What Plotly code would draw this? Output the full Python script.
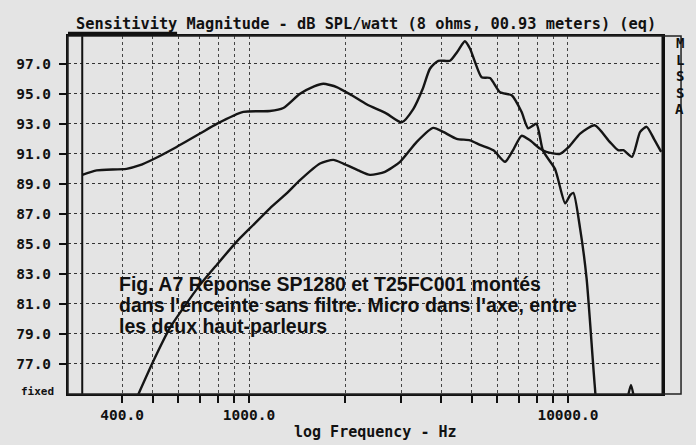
import numpy as np
import plotly.graph_objects as go

# ---- data ----
upper_freq = [300, 333, 413, 455, 501, 593, 702, 792, 960, 1163, 1281, 1445, 1600, 1710, 1883,
              2100, 2336, 2700, 3010, 3277, 3500, 3692, 3923, 4266, 4500, 4750, 4932, 5115, 5362,
              5696, 6125, 6662, 7151, 7506, 7962, 8352, 9103, 9800, 10160, 10400, 10920, 11440,
              12130, 12600, 14000, 15300, 15760, 16200, 17000]
upper_db = [89.6, 89.9, 90.0, 90.24, 90.64, 91.46, 92.35, 93.0, 93.8, 93.85, 94.05, 95.0, 95.5,
            95.67, 95.45, 94.9, 94.3, 93.68, 93.1, 94.0, 95.3, 96.67, 97.2, 97.2, 97.8, 98.5, 98.0,
            97.1, 96.1, 96.05, 95.1, 94.9, 93.8, 92.7, 93.0, 91.2, 90.0, 87.7, 88.25, 88.4, 86.0,
            82.7, 75.6, 72.0, 70.0, 74.5, 75.6, 74.5, 72.0]

lower_freq = [447, 501, 565, 622, 702, 792, 915, 1031, 1163, 1312, 1445, 1670, 1838, 1975, 2200,
              2395, 2668, 2976, 3357, 3781, 4064, 4478, 4932, 5300, 5840, 6350, 6750, 7151, 7600,
              8165, 8554, 9437, 10100, 10920, 12130, 13520, 14360, 14930, 15880, 16840, 17650,
              18600, 19600]
lower_db = [74.85, 77.18, 79.4, 80.72, 82.27, 83.6, 85.15, 86.26, 87.37, 88.36, 89.25, 90.36,
            90.6, 90.35, 89.9, 89.6, 89.8, 90.47, 91.8, 92.73, 92.46, 92.0, 91.9, 91.6, 91.24,
            90.47, 91.3, 92.2, 91.9, 91.35, 91.13, 91.0, 91.5, 92.35, 92.9, 91.8, 91.24, 91.24,
            90.8, 92.46, 92.8, 92.0, 91.13]

y_ticks = [77, 79, 81, 83, 85, 87, 89, 91, 93, 95, 97]
x_ticks = [400, 500, 600, 700, 800, 900, 1000, 2000, 3000, 4000, 5000, 6000, 7000, 8000, 9000, 10000]
x_labels = {400: "400.0", 1000: "1000.0", 10000: "10000.0"}
side_letters = ["M", "L", "S", "S", "A"]

title_text = "Sensitivity Magnitude - dB SPL/watt (8 ohms, 00.93 meters) (eq)"
xaxis_text = "log Frequency - Hz"
note_lines = ["Fig. A7 Réponse SP1280 et T25FC001 montés",
              "dans l'enceinte sans filtre. Micro dans l'axe, entre",
              "les deux haut-parleurs"]

# ---- figure ----
BG = "#e4e4e4"
MONO = dict(family="DejaVu Sans Mono", size=14.5, color="#111", weight="bold")
x_range = [np.log10(270.7), np.log10(19860)]
y_range = [75, 98.85]

fig = go.Figure()
for fx, fy in ((upper_freq, upper_db), (lower_freq, lower_db)):
    fig.add_trace(go.Scatter(x=fx, y=fy, mode="lines",
                             line=dict(color="#151515", width=2.4, shape="spline", smoothing=0.6),
                             showlegend=False, hoverinfo="skip"))

fig.update_layout(
    width=696, height=445,
    margin=dict(l=68, r=33, t=36, b=51),
    paper_bgcolor=BG, plot_bgcolor=BG,
    xaxis=dict(type="log", range=x_range,
               tickvals=x_ticks, ticktext=[x_labels.get(v, "") for v in x_ticks],
               ticks="outside", ticklen=7, tickwidth=1.5, tickcolor="#111",
               tickfont=MONO, showgrid=True, gridcolor="#444", griddash="dot", gridwidth=1.2,
               showline=True, linecolor="#111", linewidth=2, mirror=True, zeroline=False),
    yaxis=dict(range=y_range, tickvals=y_ticks, ticktext=[f"{v:.1f}" for v in y_ticks],
               ticks="outside", ticklen=7, tickwidth=1.5, tickcolor="#111",
               tickfont=MONO, ticklabelstandoff=5,
               showgrid=True, gridcolor="#333", griddash="dot", gridwidth=1.3,
               showline=True, linecolor="#111", linewidth=2, mirror=True, zeroline=False),
)

# frame pieces
fig.add_shape(type="line", xref="x", yref="paper", x0=300, x1=300, y0=0, y1=1,
              line=dict(color="#111", width=2))
fig.add_shape(type="line", xref="paper", yref="paper", x0=1, x1=1, y0=0, y1=1,
              line=dict(color="#111", width=3))
fig.add_shape(type="rect", xref="paper", yref="paper", x0=0, x1=1.0303, y0=0, y1=1,
              line=dict(color="#222", width=1.5))
fig.add_shape(type="line", xref="x", yref="paper", x0=270.7, x1=595, y0=1.006, y1=1.006,
              line=dict(color="#111", width=4))

# texts
fig.add_annotation(text=title_text, xref="paper", yref="paper", x=0.5, y=1, yanchor="bottom",
                   yshift=1, showarrow=False,
                   font=dict(family="DejaVu Sans Mono", size=15.3, color="#111", weight="bold"))
fig.add_annotation(text=xaxis_text, xref="paper", yref="paper", x=0.516, y=0, yanchor="middle",
                   yshift=-38, showarrow=False,
                   font=dict(family="DejaVu Sans Mono", size=15, color="#111", weight="bold"))
fig.add_annotation(text="fixed", xref="paper", yref="paper", x=-0.02, y=0, xanchor="right",
                   yanchor="middle", yshift=3, showarrow=False,
                   font=dict(family="DejaVu Sans Mono", size=11, color="#111", weight="bold"))
for i, ch in enumerate(side_letters):
    fig.add_annotation(text=ch, xref="paper", yref="paper", x=1.0387, y=1, yanchor="middle",
                       yshift=-7 - 16.5 * i, showarrow=False,
                       font=dict(family="DejaVu Sans Mono", size=14, color="#111", weight="bold"))
for i, line in enumerate(note_lines):
    fig.add_annotation(text=line, xref="paper", yref="paper", x=(117 - 68) / 595, y=0,
                       xanchor="left", yanchor="middle", yshift=(394 - 284) - 21 * i,
                       showarrow=False,
                       font=dict(family="Liberation Sans", size=19.5, color="#111", weight="bold"))

fig.write_html("out.html", config={"displayModeBar": False},
               post_script="document.body.style.margin='0';")
